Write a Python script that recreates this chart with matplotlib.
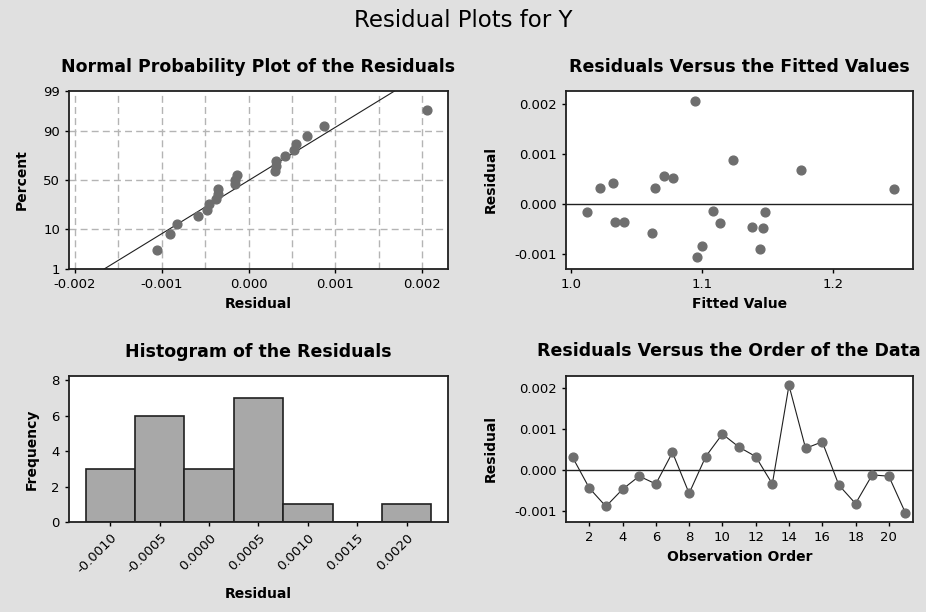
import numpy as np
import matplotlib
matplotlib.use('Agg')
import matplotlib.pyplot as plt
from statistics import NormalDist

# residuals in observation order, with matching fitted values
order = list(range(1, 22))
residuals = [0.00030, -0.00045, -0.00090, -0.00048, -0.00016, -0.00035, 0.00042,
             -0.00058, 0.00032, 0.00087, 0.00055, 0.00032, -0.00035, 0.00206,
             0.00052, 0.00068, -0.00038, -0.00083, -0.00013, -0.00016, -0.00106]
fitted = [1.2467, 1.1381, 1.1445, 1.1468, 1.0122, 1.0340, 1.0320,
          1.0617, 1.0223, 1.1234, 1.0713, 1.0640, 1.0406, 1.0949,
          1.0777, 1.1753, 1.1135, 1.1000, 1.1087, 1.1480, 1.0962]
hist_centers = [-0.0010, -0.0005, 0.0000, 0.0005, 0.0010, 0.0015, 0.0020]
hist_labels = ['-0.0010', '-0.0005', '0.0000', '0.0005', '0.0010', '0.0015', '0.0020']
pct_ticks = [1, 10, 50, 90, 99]

BG = '#e0e0e0'
PT = '#6e6e6e'
nd = NormalDist()

plt.rcParams['font.family'] = 'DejaVu Sans'
fig = plt.figure(figsize=(9.26, 6.12), dpi=100, facecolor=BG)
fig.text(0.5, 0.966, 'Residual Plots for Y', ha='center', va='center', fontsize=16.5)

def style(ax):
    ax.set_facecolor('white')
    for s in ax.spines.values():
        s.set_linewidth(1.3)
        s.set_color('#202020')
    ax.tick_params(labelsize=9.5, length=3, width=1)

tkw = dict(fontsize=12.5, fontweight='bold', pad=14)
lkw = dict(fontsize=10, fontweight='bold')

# Normal probability plot
ax1 = fig.add_axes([0.0745, 0.5605, 0.4093, 0.2908])
style(ax1)
r = np.array(residuals)
n = len(r)
rs = np.sort(r)
p = (np.arange(1, n + 1) - 0.3) / (n + 0.4)
z = np.array([nd.inv_cdf(v) for v in p])
zlo, zhi = nd.inv_cdf(0.01), nd.inv_cdf(0.99)
mu, sd = r.mean(), r.std(ddof=1)
zz = np.linspace(zlo, zhi, 50)
ax1.plot(mu + sd * zz, zz, color='#202020', lw=0.8)
ax1.scatter(rs, z, s=40, color=PT, zorder=3)
ax1.set_xlim(-0.00207, 0.0023)
ax1.set_ylim(zlo, zhi)
ax1.set_yticks([nd.inv_cdf(v / 100) for v in pct_ticks])
ax1.set_yticklabels([str(v) for v in pct_ticks])
ax1.set_xticks([-0.002, -0.001, 0, 0.001, 0.002])
ax1.set_xticklabels(['-0.002', '-0.001', '0.000', '0.001', '0.002'])
for xv in np.arange(-0.002, 0.00201, 0.0005):
    ax1.axvline(xv, color='#b4b4b4', ls=(0, (5, 3)), lw=1, zorder=0)
for yv in [10, 50, 90]:
    ax1.axhline(nd.inv_cdf(yv / 100), color='#b4b4b4', ls=(0, (5, 3)), lw=1, zorder=0)
ax1.set_title('Normal Probability Plot of the Residuals', **tkw)
ax1.set_xlabel('Residual', labelpad=4, **lkw)
ax1.set_ylabel('Percent', labelpad=10, **lkw)

# Residuals vs fitted
ax2 = fig.add_axes([0.6112, 0.5605, 0.3747, 0.2908])
style(ax2)
ax2.scatter(fitted, residuals, s=40, color=PT, zorder=3)
ax2.axhline(0, color='#202020', lw=1)
ax2.set_xlim(0.9964, 1.261)
ax2.set_ylim(-0.00129, 0.00225)
ax2.set_xticks([1.0, 1.1, 1.2])
ax2.set_yticks([-0.001, 0, 0.001, 0.002])
ax2.set_yticklabels(['-0.001', '0.000', '0.001', '0.002'])
ax2.set_title('Residuals Versus the Fitted Values', **tkw)
ax2.set_xlabel('Fitted Value', labelpad=4, **lkw)
ax2.set_ylabel('Residual', labelpad=12, **lkw)

# Histogram
ax3 = fig.add_axes([0.0745, 0.1471, 0.4093, 0.2386])
style(ax3)
w = 0.0005
edges = np.append(np.array(hist_centers) - w / 2, hist_centers[-1] + w / 2)
ax3.hist(residuals, bins=edges, color='#a8a8a8', edgecolor='#202020', linewidth=1.2)
ax3.set_xlim(-0.00142, 0.00242)
ax3.set_ylim(0, 8.25)
ax3.set_yticks([0, 2, 4, 6, 8])
ax3.set_xticks(hist_centers)
ax3.set_xticklabels(hist_labels, rotation=45, ha='right', rotation_mode='anchor')
ax3.set_title('Histogram of the Residuals', **tkw)
ax3.set_xlabel('Residual', labelpad=8, **lkw)
ax3.set_ylabel('Frequency', labelpad=9, **lkw)

# Residuals vs order
ax4 = fig.add_axes([0.6112, 0.1471, 0.3747, 0.2386])
style(ax4)
ax4.plot(order, residuals, color='#202020', lw=0.8, zorder=2)
ax4.scatter(order, residuals, s=40, color=PT, zorder=3)
ax4.axhline(0, color='#202020', lw=1)
ax4.set_xlim(0.6, 21.45)
ax4.set_ylim(-0.00128, 0.00229)
ax4.set_xticks(range(2, 21, 2))
ax4.set_yticks([-0.001, 0, 0.001, 0.002])
ax4.set_yticklabels(['-0.001', '0.000', '0.001', '0.002'])
# this title is wider than its axes; pin it inside the figure's right edge
fig.text(0.994, 1 - 351 / 612, 'Residuals Versus the Order of the Data',
         ha='right', va='center', fontsize=12.5, fontweight='bold')
ax4.set_xlabel('Observation Order', labelpad=4, **lkw)
ax4.set_ylabel('Residual', labelpad=12, **lkw)

fig.savefig('out.png', dpi=100, facecolor=BG)
